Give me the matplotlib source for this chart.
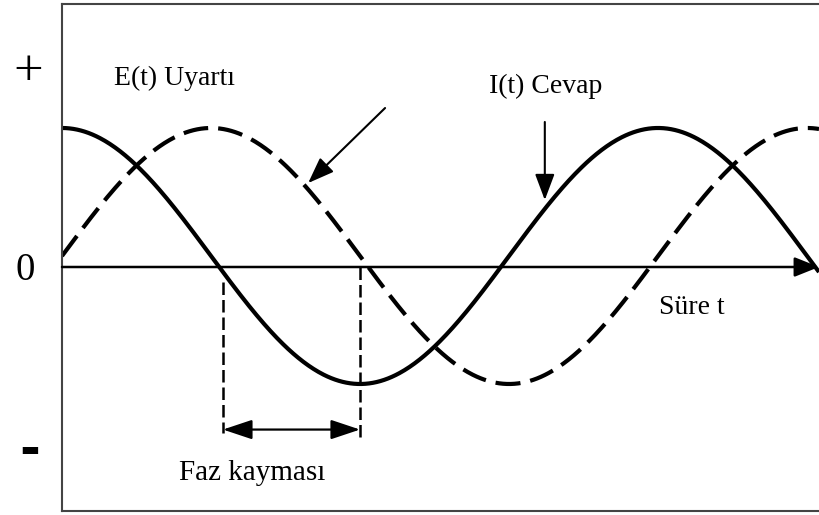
import numpy as np
from matplotlib import pyplot as plt

# wave parameters (time in periods, signal in amplitudes)
period = 1.0
amplitude = 1.0
offset = 0.086          # curves sit a little above the drawn time axis
t_end = 1.27

# phase-shift markers and arrow positions
faz_t = [0.27, 0.50]
faz_y = -1.27
e_arrow = [(0.542, 1.242), (0.413, 0.656)]
i_arrow = [(0.810, 1.133), (0.810, 0.523)]

labels = {'E': 'E(t) Uyartı', 'I': 'I(t) Cevap', 'time': 'Süre t', 'shift': 'Faz kayması'}
level_labels = ['+', '0', '-']

W, H = 819, 515
fig = plt.figure(figsize=(W/100, H/100), dpi=100)
ax = fig.add_axes([62/W, 4/H, (W-62)/W, 507/H])
ax.set_xlim(0, t_end)
ax.set_ylim(-244/128, 263/128)
ax.set_xticks([])
ax.set_yticks([])
for s in ['left', 'top', 'bottom']:
    ax.spines[s].set_color('#444444')
    ax.spines[s].set_linewidth(1.5)
ax.spines['right'].set_visible(False)

t = np.linspace(0, t_end, 600)
resp = offset + amplitude*np.cos(2*np.pi*t/period)
stim = offset + amplitude*np.sin(2*np.pi*t/period)

ax.plot(t, resp, color='black', lw=3.0, solid_capstyle='butt')
ax.plot(t, stim, color='black', lw=3.0, dashes=(6, 2.4), dash_capstyle='butt')

# time axis with arrow
ax.annotate('', xy=(t_end, 0), xytext=(0, 0),
            arrowprops=dict(arrowstyle='-|>,head_length=0.75,head_width=0.3',
                            mutation_scale=20, color='black', lw=1.8,
                            shrinkA=0, shrinkB=0), annotation_clip=False)

# phase shift marks
ax.plot([faz_t[0], faz_t[0]], [-0.12, -1.3], color='black', lw=1.8, dashes=(5, 2))
ax.plot([faz_t[1], faz_t[1]], [0, -1.36], color='black', lw=1.8, dashes=(5, 2))
ax.annotate('', xy=(faz_t[0], faz_y), xytext=(faz_t[1], faz_y),
            arrowprops=dict(arrowstyle='<|-|>,head_length=0.9,head_width=0.3',
                            mutation_scale=20, color='black', lw=1.6,
                            shrinkA=0, shrinkB=0))

# label arrows
for (x0, y0), (x1, y1) in [e_arrow, i_arrow]:
    ax.annotate('', xy=(x1, y1), xytext=(x0, y0),
                arrowprops=dict(arrowstyle='-|>,head_length=0.8,head_width=0.3',
                                mutation_scale=20, color='black', lw=1.5,
                                shrinkA=0, shrinkB=0))

serif = 'Liberation Serif'
ax.text(0.188, 1.477, labels['E'], family=serif, fontsize=20, ha='center', va='center')
ax.text(0.812, 1.414, labels['I'], family=serif, fontsize=20, ha='center', va='center')
ax.text(1.057, -0.32, labels['time'], family=serif, fontsize=20, ha='center', va='center')
ax.text(0.319, -1.61, labels['shift'], family=serif, fontsize=21, ha='center', va='center')

ax.text(-0.057, 1.523, level_labels[0], family=serif, fontsize=38, ha='center', va='center',
        clip_on=False)
ax.text(-0.062, -0.03, level_labels[1], family=serif, fontsize=28, ha='center', va='center',
        clip_on=False)
ax.text(-0.055, -1.44, level_labels[2], family='DejaVu Sans', fontsize=36, fontweight='bold',
        ha='center', va='center', clip_on=False)

fig.savefig('out.png', dpi=100)
